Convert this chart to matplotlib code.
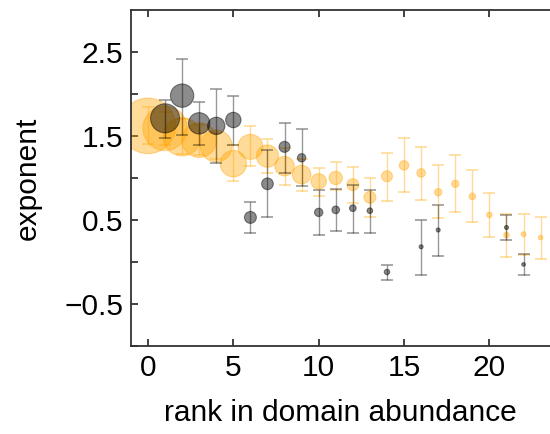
import matplotlib
matplotlib.use('Agg')
import matplotlib.pyplot as plt
import numpy as np

plt.rcParams['font.family'] = ['Liberation Sans', 'DejaVu Sans']

# orange series (all ranks)
orange_rank = list(range(24))
orange_val = [1.62, 1.59, 1.49, 1.45, 1.38, 1.17, 1.37, 1.26, 1.14, 1.04, 0.96, 1.00,
              0.92, 0.77, 1.02, 1.15, 1.06, 0.83, 0.93, 0.78, 0.56, 0.32, 0.33, 0.29]
orange_lo = [1.40, 1.39, 1.28, 1.27, 1.23, 0.96, 1.14, 1.06, 0.91, 0.84, 0.79, 0.86,
             0.70, 0.54, 0.73, 0.83, 0.74, 0.52, 0.59, 0.47, 0.30, 0.06, 0.08, 0.04]
orange_hi = [1.84, 1.79, 1.70, 1.63, 1.53, 1.39, 1.62, 1.46, 1.36, 1.23, 1.12, 1.19,
             1.13, 1.00, 1.30, 1.47, 1.37, 1.15, 1.27, 1.09, 0.82, 0.57, 0.57, 0.54]
orange_size = [40, 32, 27.5, 25, 23, 19, 18, 16, 14, 13.4, 11.1, 9.6,
               8.6, 8.6, 7.9, 6.8, 6.2, 5.3, 5.3, 4.8, 3.9, 3.9, 3.5, 3.2]

# grey series
gray_rank = [1, 2, 3, 4, 5, 6, 7, 8, 9, 10, 11, 12, 13, 14, 16, 17, 21, 22]
gray_val = [1.71, 1.98, 1.65, 1.62, 1.69, 0.53, 0.93, 1.37, 1.24, 0.59, 0.62, 0.64,
            0.61, -0.12, 0.18, 0.38, 0.41, -0.03]
gray_lo = [1.48, 1.51, 1.39, 1.18, 1.39, 0.34, 0.53, 1.06, 0.90, 0.32, 0.37, 0.35,
           0.35, -0.22, -0.15, 0.07, 0.26, -0.16]
gray_hi = [1.93, 2.42, 1.90, 2.06, 1.98, 0.71, 1.33, 1.66, 1.58, 0.86, 0.87, 0.92,
           0.86, -0.04, 0.50, 0.68, 0.56, 0.10]
gray_size = [20.9, 16.8, 15.4, 12.5, 11.1, 8.6, 8.4, 7.9, 6.0, 6.0, 5.5, 4.8,
             4.0, 3.9, 2.9, 2.9, 2.9, 2.6]

fig = plt.figure(figsize=(5.5, 4.34), dpi=100)
ax = fig.add_axes([0.238, 0.203, 0.762, 0.774])

ov = np.array(orange_val)
gv = np.array(gray_val)

ax.errorbar(orange_rank, ov, yerr=[ov - np.array(orange_lo), np.array(orange_hi) - ov],
            fmt='none', ecolor='orange', alpha=0.4, elinewidth=1.0, capsize=4.3,
            capthick=1.2, zorder=1)
ax.scatter(orange_rank, ov, s=np.array(orange_size) ** 2, color='orange', alpha=0.4,
           edgecolors='orange', linewidths=0.8, zorder=2)

ax.errorbar(gray_rank, gv, yerr=[gv - np.array(gray_lo), np.array(gray_hi) - gv],
            fmt='none', ecolor='black', alpha=0.4, elinewidth=1.0, capsize=4.3,
            capthick=1.2, zorder=3)
ax.scatter(gray_rank, gv, s=np.array(gray_size) ** 2, facecolor='black', alpha=0.45,
           edgecolors='black', linewidths=0.8, zorder=4)

ax.set_xlim(-1, 23.55)
ax.set_ylim(-1, 3)
ax.set_xticks([0, 5, 10, 15, 20])
ax.set_yticks([-0.5, 0.5, 1.5, 2.5])
ax.set_yticklabels(['\u22120.5', '0.5', '1.5', '2.5'])
ax.set_yticks([-1.0, 0.0, 1.0, 2.0], minor=True)

ax.spines['right'].set_visible(False)
for s in ['left', 'bottom', 'top']:
    ax.spines[s].set_color('#333333')
    ax.spines[s].set_linewidth(1.3)

ax.tick_params(axis='both', which='both', direction='in', length=5, width=1.2,
               color='#222222', labelsize=21.5, pad=5.5)
ax.tick_params(axis='x', which='both', top=True, pad=6)

ax.set_xlabel('rank in domain abundance', fontsize=21.5, labelpad=12)
ax.set_ylabel('exponent', fontsize=21.5, labelpad=16)

fig.savefig('out.png', dpi=100)
